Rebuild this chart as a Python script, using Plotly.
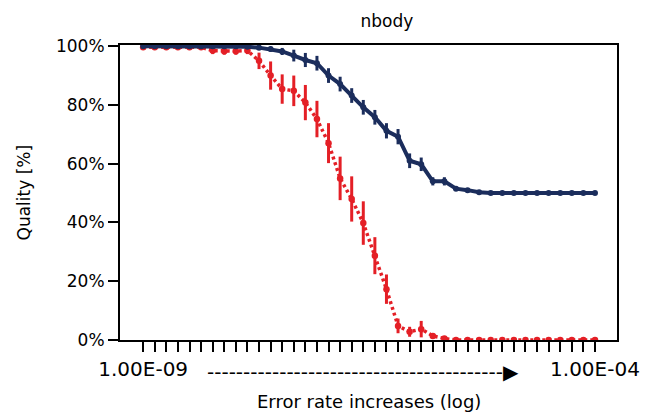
import plotly.graph_objects as go

# ---- data ----
x_idx = list(range(40))
tick_labels = ["1.00E-09"] + [""] * 38 + ["1.00E-04"]

blue_vals = [100, 100, 100, 100, 100, 100, 100, 100, 100, 99.8,
             99.5, 99.0, 98.2, 96.8, 95.3, 94.2, 90.0, 87.1, 83.2, 79.2,
             75.8, 71.2, 69.2, 61.0, 59.8, 54.0, 54.0, 51.5, 51.0, 50.3,
             50, 50, 50, 50, 50, 50, 50, 50, 50, 50]
blue_err = [0, 0, 0, 0, 0, 0, 0, 0, 0, 0.4,
            0.6, 0.8, 1.2, 2.0, 2.4, 2.5, 2.5, 2.5, 2.5, 2.5,
            2.5, 2.6, 2.6, 2.5, 2.3, 1.4, 1.4, 0.6, 0.4, 0,
            0, 0, 0, 0, 0, 0, 0, 0, 0, 0]

red_vals = [99.6, 99.6, 99.6, 99.6, 99.6, 99.6, 98.5, 98.3, 98.3, 98.5,
            95.0, 90.0, 85.4, 84.8, 80.8, 75.2, 67.0, 55.0, 48.0, 39.8,
            28.7, 17.3, 4.8, 2.8, 3.7, 1.4, 0.5, 0, 0, 0,
            0, 0, 0, 0, 0, 0, 0, 0, 0, 0]
red_err = [0, 0, 0, 0, 0, 0, 1.2, 1.2, 1.2, 1.2,
           2.8, 4.8, 5.0, 5.2, 6.0, 6.2, 6.8, 7.4, 7.7, 7.4,
           6.3, 5.0, 2.5, 1.7, 2.8, 0.8, 0, 0, 0, 0,
           0, 0, 0, 0, 0, 0, 0, 0, 0, 0]

y_ticks = [0, 20, 40, 60, 80, 100]
y_tick_labels = ["0%", "20%", "40%", "60%", "80%", "100%"]

BLUE = "#1b2d5c"
RED = "#e41f26"
FONT = "DejaVu Sans"

fig = go.Figure()
fig.add_trace(go.Scatter(
    x=x_idx, y=red_vals, mode="lines+markers",
    line=dict(color=RED, width=3.5, dash="3px,3px"),
    marker=dict(color=RED, size=6.5),
    error_y=dict(type="data", array=red_err, color=RED, thickness=3, width=0),
    showlegend=False,
))
fig.add_trace(go.Scatter(
    x=x_idx, y=blue_vals, mode="lines+markers",
    line=dict(color=BLUE, width=4),
    marker=dict(color=BLUE, size=6),
    error_y=dict(type="data", array=blue_err, color=BLUE, thickness=3, width=0),
    showlegend=False,
))

fig.update_layout(
    width=646, height=413,
    margin=dict(l=120, r=29, t=45, b=73, autoexpand=False),
    paper_bgcolor="white", plot_bgcolor="white",
    font=dict(family=FONT, color="black", size=17),
    title=dict(text="nbody", x=0.537, xref="paper", xanchor="center",
               y=1 - 21 / 413, yanchor="middle", font=dict(size=17)),
)
fig.update_xaxes(
    range=[-2, 40.9], tickmode="array", tickvals=x_idx, ticktext=tick_labels,
    ticks="outside", ticklen=10, tickwidth=2, tickcolor="black",
    showline=True, linecolor="black", linewidth=2, mirror=True,
    showgrid=False, zeroline=False, tickfont=dict(size=20), automargin=False,
)
fig.update_yaxes(
    range=[0, 100.4], tickmode="array", tickvals=y_ticks, ticktext=y_tick_labels,
    ticks="outside", ticklen=10, tickwidth=2, tickcolor="black",
    showline=True, linecolor="black", linewidth=2, mirror=True,
    showgrid=False, zeroline=False, tickfont=dict(size=17), automargin=False,
)

fig.add_annotation(text="-" * 41 + "\u25B6", x=(363 - 120) / 497, y=(340 - 372) / 295,
                   xref="paper", yref="paper", showarrow=False,
                   font=dict(size=20), xanchor="center", yanchor="middle")
fig.add_annotation(text="Error rate increases (log)", x=0.5, y=(340 - 401) / 295,
                   xref="paper", yref="paper", showarrow=False,
                   font=dict(size=18), xanchor="center", yanchor="middle")
fig.add_annotation(text="Quality [%]", x=(23 - 120) / 497, y=0.5, textangle=-90,
                   xref="paper", yref="paper", showarrow=False,
                   font=dict(size=17), xanchor="center", yanchor="middle")

fig.write_html("out.html", config={"displayModeBar": False},
               post_script="document.body.style.margin='0';document.body.style.overflow='hidden';")
